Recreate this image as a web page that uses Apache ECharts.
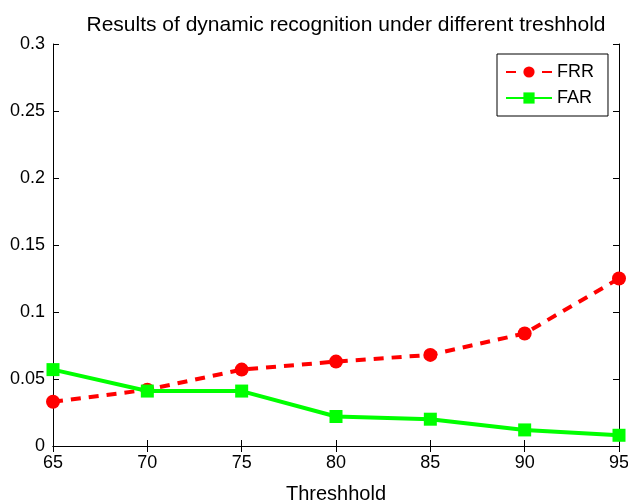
<!DOCTYPE html>
<html>
<head>
<meta charset="utf-8">
<script src="https://cdn.jsdelivr.net/npm/echarts@6/dist/echarts.min.js"></script>
<style>
  html, body { margin: 0; padding: 0; background: #fff; }
  #chart { width: 628px; height: 503px; }
</style>
</head>
<body>
<div id="chart"></div>
<script>
// threshold values and the two error rates
const thresholds = [65, 70, 75, 80, 85, 90, 95];
const frr = [0.033, 0.042, 0.057, 0.063, 0.068, 0.084, 0.125];
const far = [0.057, 0.041, 0.041, 0.022, 0.020, 0.012, 0.008];

const font = 'Liberation Sans, Arial, Helvetica, sans-serif';

const myChart = echarts.init(document.getElementById('chart'), null, { renderer: 'canvas' });

const pair = (xs, ys) => xs.map((x, i) => [x, ys[i]]);

const axisLineStyle = { color: '#000', width: 1 };

const option = {
    animation: false,
    backgroundColor: '#fff',
    title: {
        text: 'Results of dynamic recognition under different treshhold',
        left: 341,
        textAlign: 'center',
        top: 10,
        textStyle: { fontFamily: font, fontSize: 21, fontWeight: 'normal', color: '#000' }
    },
    // v6 would otherwise shrink the grid to keep the "95" label inside the canvas
    grid: { left: 53, right: 9, top: 44, bottom: 57, containLabel: false, outerBoundsMode: 'none' },
    legend: {
        left: 497,
        top: 54,
        orient: 'vertical',
        backgroundColor: '#fff',
        borderColor: '#000',
        borderWidth: 1,
        borderRadius: 0,
        padding: [9, 14, 9, 8],
        itemGap: 8,
        itemWidth: 46,
        itemHeight: 14,
        textStyle: { fontFamily: font, fontSize: 18, color: '#000' },
        data: ['FRR', 'FAR']
    },
    xAxis: [{
        type: 'value',
        min: 65, max: 95, interval: 5,
        name: 'Threshhold',
        nameLocation: 'middle',
        nameGap: 38,
        nameTextStyle: { fontFamily: font, fontSize: 20, color: '#000' },
        axisLine: { lineStyle: axisLineStyle },
        axisTick: { inside: true, length: 6, lineStyle: axisLineStyle },
        axisLabel: { fontFamily: font, fontSize: 18, color: '#000', margin: 8 },
        splitLine: { show: false }
    }, {
        type: 'value', position: 'top',
        min: 65, max: 95, interval: 5,
        axisLine: { lineStyle: axisLineStyle },
        axisTick: { inside: true, length: 6, lineStyle: axisLineStyle },
        axisLabel: { show: false },
        splitLine: { show: false }
    }],
    yAxis: [{
        type: 'value',
        min: 0, max: 0.3, interval: 0.05,
        axisLine: { show: true, lineStyle: axisLineStyle },
        axisTick: { show: true, inside: true, length: 6, lineStyle: axisLineStyle },
        axisLabel: { fontFamily: font, fontSize: 18, color: '#000', margin: 8 },
        splitLine: { show: false }
    }, {
        type: 'value', position: 'right',
        min: 0, max: 0.3, interval: 0.05,
        axisLine: { show: true, lineStyle: axisLineStyle },
        axisTick: { show: true, inside: true, length: 6, lineStyle: axisLineStyle },
        axisLabel: { show: false },
        splitLine: { show: false }
    }],
    series: [{
        name: 'FRR',
        type: 'line',
        data: pair(thresholds, frr),
        symbol: 'circle',
        symbolSize: 14,
        itemStyle: { color: '#ff0000' },
        lineStyle: { color: '#ff0000', width: 4, type: [10, 8] },
        z: 3
    }, {
        name: 'FAR',
        type: 'line',
        data: pair(thresholds, far),
        symbol: 'rect',
        symbolSize: 13,
        itemStyle: { color: '#00ff00' },
        lineStyle: { color: '#00ff00', width: 4 },
        z: 4
    }]
};

myChart.setOption(option);
</script>
</body>
</html>
